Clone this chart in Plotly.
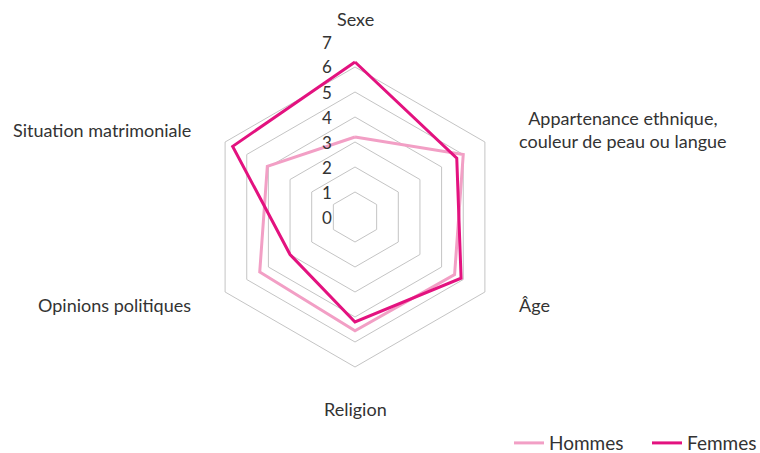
import numpy as np
import plotly.graph_objects as go

categories = [
    "Sexe",
    "Appartenance ethnique,<br>couleur de peau ou langue",
    "Âge",
    "Religion",
    "Opinions politiques",
    "Situation matrimoniale",
]
hommes = [3.2, 5.0, 4.6, 4.55, 4.4, 4.05]
femmes = [6.2, 4.7, 4.9, 4.2, 3.0, 5.65]
radial_ticks = [0, 1, 2, 3, 4, 5, 6, 7]
r_max = 7

fig = go.Figure()
fig.add_trace(go.Scatterpolar(
    r=hommes + hommes[:1], theta=categories + categories[:1],
    mode="lines", name="Hommes",
    line=dict(color="#f29fc5", width=3),
))
fig.add_trace(go.Scatterpolar(
    r=femmes + femmes[:1], theta=categories + categories[:1],
    mode="lines", name="Femmes",
    line=dict(color="#e3127f", width=3),
))

W, H = 760, 453
cx, cy, R = 355, 217, 175          # polar centre and outer radius, px
SIDE_PAD = 10                       # horizontal gap for labels beside a vertex
TOP_PAD, BOTTOM_PAD = 10, 4         # vertical gaps above / below the hexagon
TICK_OFFSET = 28                    # radial tick labels sit this far left of the axis

annotations = []

# Category labels just outside each hexagon vertex (clockwise from the top)
for i, name in enumerate(categories):
    ang = np.deg2rad(90 - i * 360 / len(categories))
    ca, sa = np.cos(ang), np.sin(ang)
    vx, vy = cx + R * ca, cy - R * sa
    if abs(ca) < 1e-6:
        xanchor, px = "center", vx
        if sa > 0:
            yanchor, py = "bottom", vy - TOP_PAD
        else:
            yanchor, py = "top", vy + BOTTOM_PAD
    else:
        xanchor = "left" if ca > 0 else "right"
        px = vx + SIDE_PAD * np.sign(ca)
        yanchor, py = "middle", vy
    annotations.append(dict(
        text=name, x=px / W, y=(H - py) / H, xref="paper", yref="paper",
        xanchor=xanchor, yanchor=yanchor, align="center",
        showarrow=False, font=dict(size=18, color="#333333"),
    ))

# Radial scale labels in a vertical column left of the upward axis
for v in radial_ticks:
    py = cy - R * v / r_max
    annotations.append(dict(
        text=str(v), x=(cx - TICK_OFFSET) / W, y=(H - py) / H,
        xref="paper", yref="paper", xanchor="center", yanchor="middle",
        showarrow=False, font=dict(size=17, color="#333333"),
    ))

fig.update_layout(
    width=W, height=H,
    margin=dict(l=0, r=0, t=0, b=0, autoexpand=False),
    paper_bgcolor="white",
    font=dict(family="Lato, sans-serif", size=18, color="#333333"),
    annotations=annotations,
    polar=dict(
        domain=dict(x=[(cx - R) / W, (cx + R) / W],
                    y=[(H - cy - R) / H, (H - cy + R) / H]),
        bgcolor="white",
        gridshape="linear",
        angularaxis=dict(
            direction="clockwise", rotation=90,
            showline=False, showgrid=False, ticks="",
            showticklabels=False,
        ),
        radialaxis=dict(
            range=[0, r_max], angle=90,
            tickvals=radial_ticks,
            showticklabels=False,
            showline=False, ticks="",
            gridcolor="#c4c4c4", gridwidth=1,
        ),
    ),
    legend=dict(
        orientation="h", x=509 / W, xanchor="left", y=-0.02, yanchor="bottom",
        entrywidth=93, entrywidthmode="pixels",
        font=dict(size=19, color="#333333"),
    ),
)

fig.write_html("out.html")
